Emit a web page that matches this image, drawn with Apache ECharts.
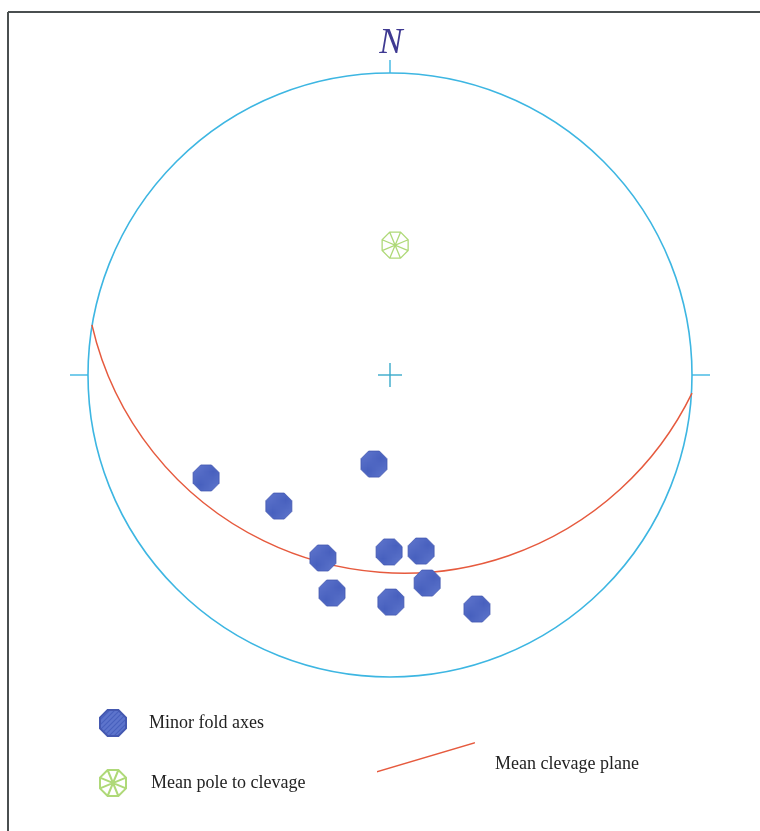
<!DOCTYPE html>
<html>
<head>
<meta charset="utf-8">
<script src="https://cdn.jsdelivr.net/npm/echarts@6/dist/echarts.min.js"></script>
<style>
html,body{margin:0;padding:0;background:#fff;}
#chart{width:760px;height:831px;}
</style>
</head>
<body>
<div id="chart"></div>
<script>
// Stereonet coordinates, in units of the primitive-circle radius (east = +x, north = +y)
const foldAxesX = [-0.609, -0.053, -0.368, -0.222, -0.003, 0.103, 0.123, -0.192, 0.003, 0.288];
const foldAxesY = [-0.341, -0.295, -0.434, -0.606, -0.586, -0.583, -0.689, -0.722, -0.752, -0.775];
const meanPoleX = [0.017];
const meanPoleY = [0.430];
// mean cleavage plane (great circle): west end, lowest point, east end
const planeX = [-0.987, 0.076, 1.0];
const planeY = [0.166, -0.656, -0.060];
const primitiveRadius = [1];
const tickAngles = [0, 90, 270]; // N, E, W (degrees clockwise from north)
const northLabel = 'N';
const seriesNames = ['Minor fold axes', 'Mean pole to clevage', 'Mean clevage plane'];

const zip = (a, b) => a.map((v, i) => [v, b[i]]);

// hatched fill for fold-axis markers
const pat = document.createElement('canvas');
pat.width = 5; pat.height = 5;
const g = pat.getContext('2d');
g.fillStyle = '#5d74cc'; g.fillRect(0, 0, 5, 5);
g.strokeStyle = '#475fbd'; g.lineWidth = 1.1;
g.beginPath(); g.moveTo(-1, 6); g.lineTo(6, -1); g.stroke();
g.beginPath(); g.moveTo(-1, 1); g.lineTo(1, -1); g.stroke();
g.beginPath(); g.moveTo(4, 6); g.lineTo(6, 4); g.stroke();

const octagon = 'path://M19.24,13.83 L13.83,19.24 L6.17,19.24 L0.76,13.83 L0.76,6.17 L6.17,0.76 L13.83,0.76 L19.24,6.17 Z';
const poleIcon = 'path://M19.24,13.83 L13.83,19.24 L6.17,19.24 L0.76,13.83 L0.76,6.17 L6.17,0.76 L13.83,0.76 L19.24,6.17 Z M19.24,13.83 L0.76,6.17 M13.83,19.24 L6.17,0.76 M6.17,19.24 L13.83,0.76 M0.76,13.83 L19.24,6.17';

const cyan = '#3db6e2';
const red = '#e65a3e';
const legendFont = {fontFamily: 'Liberation Serif', fontSize: 18, color: '#222'};
const chart = echarts.init(document.getElementById('chart'), null, {renderer: 'canvas'});

chart.setOption({
  backgroundColor: '#ffffff',
  animation: false,
  grid: {left: 88, top: 73, width: 604, height: 604},
  xAxis: {type: 'value', min: -1, max: 1, show: false},
  yAxis: {type: 'value', min: -1, max: 1, show: false},
  legend: [
    {data: [seriesNames[0]], left: 99, top: 709, padding: 0, itemWidth: 26, itemHeight: 26,
     textStyle: Object.assign({padding: [5, 0, 0, 18]}, legendFont)},
    {data: [seriesNames[1]], left: 99, top: 769, padding: 0, itemWidth: 26, itemHeight: 26,
     textStyle: Object.assign({padding: [8, 0, 0, 20]}, legendFont)},
    {data: [{name: seriesNames[2], icon: 'path://M0,29 L98,0 L98,1.6 L0,30.6 Z M0,44 L0.05,44 L0,44.05 Z'}],
     left: 377, top: 742, padding: 0, itemWidth: 98, itemHeight: 44,
     textStyle: Object.assign({padding: [0, 0, 0, 15]}, legendFont)}
  ],
  graphic: [
    {type: 'line', shape: {x1: 8, y1: 12, x2: 760, y2: 12}, style: {stroke: '#4a4f50', lineWidth: 2}},
    {type: 'line', shape: {x1: 8, y1: 12, x2: 8, y2: 831}, style: {stroke: '#4a4f50', lineWidth: 2}}
  ],
  series: [
    {
      type: 'custom',
      silent: true,
      data: primitiveRadius.map(r => [0, 0, r]),
      renderItem: function (params, api) {
        const c = api.coord([api.value(0), api.value(1)]);
        const r = api.size([api.value(2), 0])[0];
        const children = [{
          type: 'circle', shape: {cx: c[0], cy: c[1], r: r},
          style: {fill: 'none', stroke: cyan, lineWidth: 1.6}
        }];
        tickAngles.forEach(a => {
          const t = a * Math.PI / 180, dx = Math.sin(t), dy = -Math.cos(t);
          const len = a === 0 ? 13 : 18;
          children.push({type: 'line',
            shape: {x1: c[0] + dx * r, y1: c[1] + dy * r, x2: c[0] + dx * (r + len), y2: c[1] + dy * (r + len)},
            style: {stroke: cyan, lineWidth: 1.4}});
        });
        children.push({type: 'line', shape: {x1: c[0] - 12, y1: c[1], x2: c[0] + 12, y2: c[1]}, style: {stroke: '#38aacb', lineWidth: 1.4}});
        children.push({type: 'line', shape: {x1: c[0], y1: c[1] - 12, x2: c[0], y2: c[1] + 12}, style: {stroke: '#38aacb', lineWidth: 1.4}});
        children.push({type: 'text', x: c[0] + 1, y: c[1] - r - 29,
          style: {text: northLabel, fontFamily: 'Liberation Serif', fontStyle: 'italic', fontSize: 35,
                  fill: '#3f3a92', align: 'center', verticalAlign: 'middle'}});
        return {type: 'group', children: children};
      },
      z: 1
    },
    {
      name: seriesNames[2],
      type: 'custom',
      silent: true,
      color: red,
      itemStyle: {color: red},
      data: zip(planeX, planeY),
      renderItem: function (params, api) {
        if (params.dataIndex !== 0) return null;
        const p = zip(planeX, planeY).map(d => api.coord(d));
        const [x1, y1] = p[0], [x2, y2] = p[1], [x3, y3] = p[2];
        const d = 2 * (x1 * (y2 - y3) + x2 * (y3 - y1) + x3 * (y1 - y2));
        const s1 = x1 * x1 + y1 * y1, s2 = x2 * x2 + y2 * y2, s3 = x3 * x3 + y3 * y3;
        const cx = (s1 * (y2 - y3) + s2 * (y3 - y1) + s3 * (y1 - y2)) / d;
        const cy = (s1 * (x3 - x2) + s2 * (x1 - x3) + s3 * (x2 - x1)) / d;
        const r = Math.hypot(x1 - cx, y1 - cy);
        const TWO = Math.PI * 2;
        const norm = a => ((a % TWO) + TWO) % TWO;
        const a1 = Math.atan2(y1 - cy, x1 - cx), a2 = Math.atan2(y2 - cy, x2 - cx), a3 = Math.atan2(y3 - cy, x3 - cx);
        // choose direction from a3 to a1 that passes through a2
        let start = a3, end = a1;
        if (norm(a2 - a3) > norm(a1 - a3)) { start = a1; end = a3; }
        return {type: 'arc', shape: {cx: cx, cy: cy, r: r, startAngle: start, endAngle: end, clockwise: true},
                style: {fill: 'none', stroke: red, lineWidth: 1.5}};
      },
      z: 2
    },
    {
      name: seriesNames[0],
      type: 'scatter',
      data: zip(foldAxesX, foldAxesY),
      symbol: octagon,
      symbolSize: 26,
      itemStyle: {color: {image: pat, repeat: 'repeat'}, borderColor: '#4458b0', borderWidth: 0.8, opacity: 1},
      z: 3
    },
    {
      name: seriesNames[1],
      type: 'scatter',
      data: zip(meanPoleX, meanPoleY),
      symbol: poleIcon,
      symbolSize: 26,
      itemStyle: {color: 'rgba(255,255,255,0)', borderColor: '#afd978', borderWidth: 1.3, opacity: 1},
      z: 3
    }
  ]
});
</script>
</body>
</html>
